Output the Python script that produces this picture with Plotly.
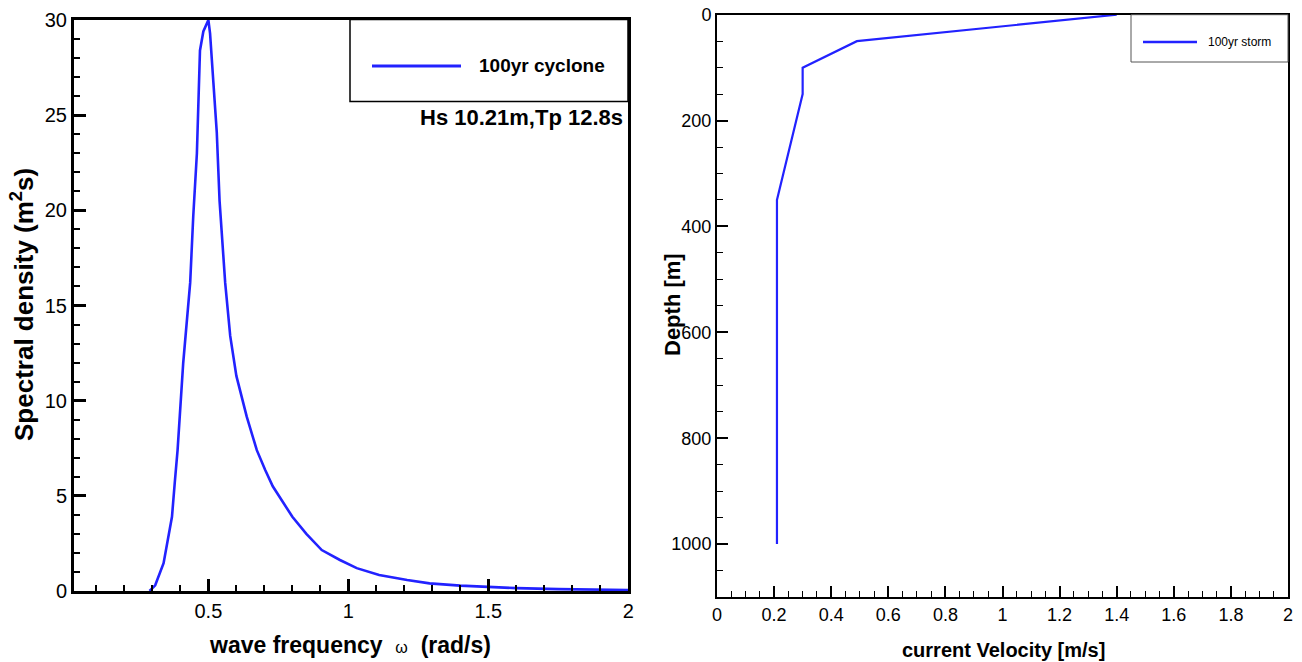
import plotly.graph_objects as go

# ---------------- data ----------------
omega = [0.29, 0.31, 0.34, 0.357, 0.37, 0.38, 0.39, 0.41, 0.435, 0.446, 0.459, 0.47, 0.482,
         0.50, 0.506, 0.518, 0.53, 0.54, 0.56, 0.578, 0.60, 0.637, 0.673, 0.703, 0.73,
         0.80, 0.85, 0.905, 0.97, 1.03, 1.11, 1.21, 1.29, 1.40, 1.50, 1.60, 1.75, 1.90, 2.0]
spectral = [0.0, 0.3, 1.46, 2.85, 3.9, 5.7, 7.4, 11.96, 16.2, 19.7, 23.0, 28.4, 29.4,
            30.0, 29.3, 26.7, 24.1, 20.5, 16.2, 13.4, 11.3, 9.16, 7.4, 6.36, 5.5,
            3.9, 3.0, 2.15, 1.63, 1.2, 0.84, 0.58, 0.40, 0.28, 0.20, 0.15, 0.10, 0.07, 0.05]

velocity = [1.40, 0.49, 0.30, 0.30, 0.21, 0.21]
depth = [0, 50, 100, 150, 350, 1000]

left_xticks = [0.5, 1, 1.5, 2]
left_xlabels = ["0.5", "1", "1.5", "2"]
left_yticks = [0, 5, 10, 15, 20, 25, 30]
right_xticks = [0, 0.2, 0.4, 0.6, 0.8, 1, 1.2, 1.4, 1.6, 1.8, 2]
right_xlabels = ["0", "0.2", "0.4", "0.6", "0.8", "1", "1.2", "1.4", "1.6", "1.8", "2"]
right_yticks = [0, 200, 400, 600, 800, 1000]

name_left = "100yr cyclone"
name_right = "100yr storm"
note_left = "Hs 10.21m,Tp 12.8s"

# ---------------- layout helpers ----------------
W, H = 1302, 662
FONT = "Liberation Sans, Arial, sans-serif"
BLUE = "#2222ff"


def px(x):
    return x / W


def py(y):
    return 1 - y / H


fig = go.Figure()
fig.add_trace(go.Scatter(x=omega, y=spectral, mode="lines", name=name_left,
                         line=dict(color=BLUE, width=2.6), xaxis="x", yaxis="y",
                         showlegend=False))
fig.add_trace(go.Scatter(x=velocity, y=depth, mode="lines", name=name_right,
                         line=dict(color=BLUE, width=2.2), xaxis="x2", yaxis="y2",
                         showlegend=False))

common = dict(showgrid=False, zeroline=False, showline=True, linecolor="black",
              mirror=True, ticks="inside", tickcolor="black", automargin=False)

fig.update_layout(
    template="none",
    width=W, height=H,
    margin=dict(l=0, r=0, t=0, b=0, pad=0),
    paper_bgcolor="white", plot_bgcolor="white",
    font=dict(family=FONT, color="black"),
    xaxis=dict(domain=[px(74), px(628.3)], range=[0.02, 2], anchor="y",
               tickvals=left_xticks, ticktext=left_xlabels,
               ticklen=12, tickwidth=2.5, linewidth=3,
               tickfont=dict(size=20, family=FONT),
               minor=dict(dtick=0.1, tick0=0, ticks="inside", ticklen=6, tickwidth=1.5,
                          tickcolor="black", showgrid=False),
               **common),
    yaxis=dict(domain=[py(591), py(20)], range=[0, 30], anchor="x",
               tickvals=left_yticks, ticklen=12, tickwidth=2.5, linewidth=3,
               tickfont=dict(size=20, family=FONT),
               minor=dict(dtick=1, tick0=0, ticks="inside", ticklen=6, tickwidth=1.5,
                          tickcolor="black", showgrid=False),
               **common),
    xaxis2=dict(domain=[px(717), px(1288)], range=[0, 2], anchor="y2",
                tickvals=right_xticks, ticktext=right_xlabels,
                ticklen=11, tickwidth=2.2, linewidth=2,
                tickfont=dict(size=18, family=FONT),
                minor=dict(dtick=0.05, tick0=0, ticks="inside", ticklen=6, tickwidth=1.2,
                           tickcolor="black", showgrid=False),
                **common),
    yaxis2=dict(domain=[py(597), py(14.7)], range=[1100, 0], anchor="x2",
                tickvals=right_yticks, ticklen=11, tickwidth=2.2, linewidth=2,
                tickfont=dict(size=18, family=FONT),
                minor=dict(dtick=50, tick0=0, ticks="inside", ticklen=6, tickwidth=1.2,
                           tickcolor="black", showgrid=False),
                **common),
)

shapes = [
    # left legend box
    dict(type="rect", xref="paper", yref="paper", x0=px(350), x1=px(628), y0=py(101.5), y1=py(19.5),
         line=dict(color="black", width=1.5), fillcolor="rgba(0,0,0,0)"),
    dict(type="line", xref="paper", yref="paper", x0=px(372), x1=px(461), y0=py(66), y1=py(66),
         line=dict(color=BLUE, width=3)),
    # right legend box
    dict(type="rect", xref="paper", yref="paper", x0=px(1131), x1=px(1288), y0=py(62), y1=py(14.7),
         line=dict(color="#555555", width=1), fillcolor="rgba(0,0,0,0)"),
    dict(type="line", xref="paper", yref="paper", x0=px(1143), x1=px(1197), y0=py(42), y1=py(42),
         line=dict(color=BLUE, width=2.5)),
]
fig.update_layout(shapes=shapes)

annotations = [
    dict(text="<b>" + name_left + "</b>", x=px(477), y=py(66), xanchor="left", yanchor="middle",
         font=dict(size=19, family=FONT)),
    dict(text="<b>" + note_left + "</b>", x=px(625), y=py(117), xanchor="right", yanchor="middle",
         font=dict(size=22, family=FONT)),
    dict(text=name_right, x=px(1206), y=py(42), xanchor="left", yanchor="middle",
         font=dict(size=12, family=FONT)),
    dict(text="<b>Spectral density (m<sup>2</sup>s)</b>", x=px(22), y=py(305), textangle=-90,
         xanchor="center", yanchor="middle", font=dict(size=26, family=FONT)),
    dict(text="<b>wave frequency\u00a0\u00a0</b><span style='font-size:16px'>ω</span><b>\u00a0\u00a0(rad/s)</b>",
         x=px(350), y=py(645), xanchor="center", yanchor="middle", font=dict(size=23, family=FONT)),
    dict(text="<b>current Velocity [m/s]</b>", x=px(1003), y=py(650), xanchor="center",
         yanchor="middle", font=dict(size=20, family=FONT)),
    dict(text="<b>Depth [m]</b>", x=px(672), y=py(305), textangle=-90, xanchor="center",
         yanchor="middle", font=dict(size=22, family=FONT)),
]
for a in annotations:
    a.update(xref="paper", yref="paper", showarrow=False)
fig.update_layout(annotations=annotations)

fig.write_html("out.html", config={"displayModeBar": False},
               post_script="document.body.style.margin='0';document.body.style.overflow='hidden';")
